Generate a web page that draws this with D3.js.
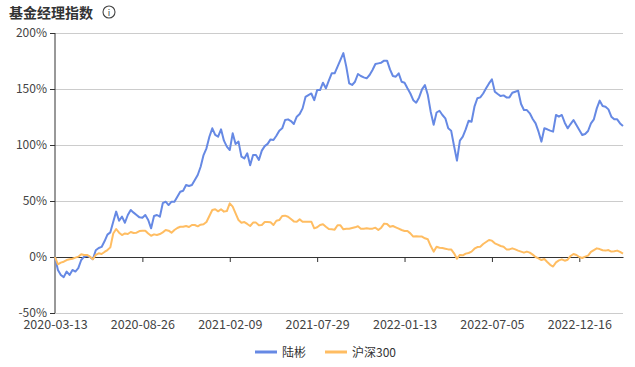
<!DOCTYPE html>
<html>
<head>
<meta charset="utf-8">
<script src="https://cdn.jsdelivr.net/npm/d3@7/dist/d3.min.js"></script>
<style>
  body { margin: 0; background: #fff; }
  text { font-family: "Noto Sans CJK SC", "Noto Sans", sans-serif; }
</style>
</head>
<body>
<svg id="chart" width="635" height="367"></svg>
<script>
// x axis labels, one every tickStep samples
var tickLabels = ["2020-03-13", "2020-08-26", "2021-02-09", "2021-07-29", "2022-01-13", "2022-07-05", "2022-12-16"];
var tickStep = 30;
var yTicks = [-50, 0, 50, 100, 150, 200];
var seriesNames = ["陆彬", "沪深300"];

// 陆彬 (%)
var fundValues = [
  0, -11.6, -16, -18, -13, -16, -11.6, -13, -10, -2.7,
  0.3, 1, 0, -2, 6, 8, 9, 14, 20, 22,
  31.5, 40.5, 32.4, 36, 30.6, 37.5, 42, 39.6, 37.5, 35.4,
  35, 37.5, 33, 25.6, 36.6, 37.5, 36, 48, 49.4, 46.4,
  49.4, 49.4, 53.9, 58.3, 59.2, 64.3, 63.4, 64.3, 68.7, 73.2,
  80.6, 91, 97, 107.4, 114.9, 109, 107.4, 114, 103.9, 98.5,
  95.5, 110.4, 100.9, 103, 89.6, 88, 92.6, 82, 91, 91,
  86.6, 95, 99, 101, 105, 104.5, 108.3, 112.8, 114.9, 122.3,
  122.9, 121.4, 118.8, 125.3, 127.7, 132.7, 142.9, 144.6, 146, 140,
  149, 149, 155.6, 150.6, 157.4, 164, 164, 170, 176, 182,
  170, 155, 153.6, 156.5, 163.4, 161.6, 160.4, 159.5, 162.5, 167,
  172.3, 172.9, 173.5, 175.3, 175.3, 167.5, 161.6, 161, 164, 156.5,
  155.6, 150.6, 146, 140, 137.8, 142.5, 149.7, 153.6, 144.6, 129.5,
  118, 129, 130.6, 126.8, 123.8, 114.9, 112.8, 99.1, 86, 103.9,
  107.4, 113.9, 121.7, 120.8, 134.2, 141.7, 142.5, 146, 150.6, 155,
  158.6, 147.6, 145.5, 143.7, 144.3, 142.5, 142.5, 146.7, 147.6, 148.5,
  136.6, 131.2, 131.2, 128.3, 123.2, 119.3, 111.9, 103, 114.9, 114,
  112.8, 111.9, 126.8, 125.3, 126.8, 119.9, 114.9, 118.7, 122.3, 117.8,
  113.4, 108.9, 109.8, 112.5, 119.3, 122.9, 132.7, 139.6, 134.8, 134.2,
  131.8, 125.3, 122.9, 122.9, 119.3, 117
];

// 沪深300 (%)
var indexValues = [
  0, -6.5, -5, -4.2, -2.7, -2, -1.5, -0.6, 0.3, 2.4,
  1.8, 1.8, 0.3, -2, 1.8, 3.3, 2.7, 4.5, 6.2, 8.6,
  21, 25, 21.7, 19.6, 21, 20.5, 22.3, 21.4, 21.7, 23.2,
  23.5, 23.5, 21, 19, 20.2, 19.6, 20.5, 22, 24.1, 23.5,
  21.7, 24.1, 25.9, 27, 27, 27.7, 26.8, 28.6, 28.6, 27.4,
  28.9, 29.2, 31.2, 36.6, 42, 42.6, 40.8, 42.6, 40.5, 41,
  47.9, 45, 39, 33, 30.6, 31.2, 29.5, 27.7, 30.7, 30.7,
  28.3, 28.6, 31.2, 31.2, 31, 28.6, 32.4, 33, 36.6, 36.9,
  36, 33.9, 31.8, 31.5, 33.6, 31.5, 31.5, 31.5, 31.5, 25.6,
  26.5, 28.6, 29.2, 27, 25, 24.7, 24.4, 28.3, 28.3, 24.7,
  25.3, 25.3, 25.9, 26.5, 27.4, 25.3, 25.3, 25.6, 25.3, 25.3,
  26.2, 24.1, 26.2, 29.8, 29.5, 27, 27.7, 26.5, 25.3, 24.1,
  23.2, 23.2, 21.1, 18.2, 18.5, 18.2, 18.2, 16.7, 15.8, 9.8,
  4.8, 9.2, 8.3, 8, 7.4, 6.8, 6.8, 3.3, -1.5, 1.8,
  1.5, 3, 3.6, 4.8, 7.4, 8.9, 9.2, 11.6, 13.4, 15.2,
  14.6, 12.2, 11, 9.8, 9.2, 6.8, 6.8, 7.7, 6.8, 5.7,
  4.8, 3.9, 4.8, 3.9, 2.1, 0, -1.2, -2.7, -1.8, -4.5,
  -7, -8.5, -4.8, -3, -2.1, -3.3, -2.4, 0.9, 2.7, 1.8,
  0, -0.9, 0.3, 1.2, 4.5, 6.2, 7.7, 7.1, 6, 5.7,
  6.2, 4.8, 5.1, 5.7, 4.5, 3
];

var colors = ["#6689e4", "#ffbd62"];

function drawChart() {
  var svg = d3.select("#chart");
  var plotLeft = 55, plotRight = 623, plotTop = 33, plotBottom = 313;

  var x = d3.scaleLinear().domain([0, fundValues.length - 1]).range([plotLeft, plotRight]);
  var y = d3.scaleLinear().domain([-50, 200]).range([plotBottom, plotTop]);

  // title
  svg.append("text").attr("x", 9).attr("y", 18)
    .attr("font-size", 14).attr("font-weight", "bold").attr("fill", "#333")
    .text("基金经理指数");
  var info = svg.append("g").attr("transform", "translate(109,12)");
  info.append("circle").attr("r", 6).attr("fill", "none").attr("stroke", "#444").attr("stroke-width", 1.1);
  info.append("text").attr("y", 3.5).attr("text-anchor", "middle")
    .attr("font-size", 9).attr("fill", "#444").text("i");

  // grid lines
  svg.append("g").selectAll("line").data(yTicks.filter(function(d) { return d !== 0; }))
    .enter().append("line")
    .attr("x1", plotLeft).attr("x2", plotRight)
    .attr("y1", function(d) { return y(d); }).attr("y2", function(d) { return y(d); })
    .attr("stroke", "#ccc").attr("stroke-width", 1).attr("shape-rendering", "crispEdges");

  // y axis
  var yAxis = d3.axisLeft(y).tickValues(yTicks).tickSize(5).tickPadding(3)
    .tickFormat(function(d) { return d + "%"; });
  var gy = svg.append("g").attr("transform", "translate(" + plotLeft + ",0)").call(yAxis);
  gy.select(".domain").attr("stroke", "#333").attr("d", "M0," + plotTop + "V" + plotBottom);
  gy.selectAll(".tick line").attr("stroke", "#333");
  gy.selectAll("text").attr("font-size", 12).attr("fill", "#444")
    .style("font-family", '"Noto Sans CJK SC", "Noto Sans", sans-serif');

  // x axis sits on the zero line, labels at the bottom
  var xTickIdx = tickLabels.map(function(d, i) { return i * tickStep; });
  var xAxis = d3.axisBottom(x).tickValues(xTickIdx).tickSize(5).tickSizeOuter(0)
    .tickFormat(function(d) { return tickLabels[d / tickStep]; });
  var gx = svg.append("g").attr("transform", "translate(0," + y(0) + ")").call(xAxis);
  gx.select(".domain").attr("stroke", "#333");
  gx.selectAll(".tick line").attr("stroke", "#333");
  gx.selectAll("text").attr("font-size", 12.5).attr("fill", "#444")
    .attr("y", y(-50) - y(0) + 7)
    .style("font-family", '"Noto Sans CJK SC", "Noto Sans", sans-serif');

  // lines
  var line = d3.line()
    .x(function(d, i) { return x(i); })
    .y(function(d) { return y(d); });

  [fundValues, indexValues].forEach(function(vals, k) {
    svg.append("path").datum(vals)
      .attr("fill", "none")
      .attr("stroke", colors[k])
      .attr("stroke-width", 2)
      .attr("stroke-linejoin", "round")
      .attr("d", line);
  });

  // legend
  var legendX = [255, 325];
  var lg = svg.append("g").selectAll("g").data(seriesNames).enter().append("g")
    .attr("transform", function(d, i) { return "translate(" + legendX[i] + ",352)"; });
  lg.append("line").attr("x1", 0).attr("x2", 22)
    .attr("stroke", function(d, i) { return colors[i]; }).attr("stroke-width", 3);
  lg.append("text").attr("x", 27).attr("y", 4.5)
    .attr("font-size", 12).attr("fill", "#333")
    .text(function(d) { return d; });
}

drawChart();
</script>
</body>
</html>
